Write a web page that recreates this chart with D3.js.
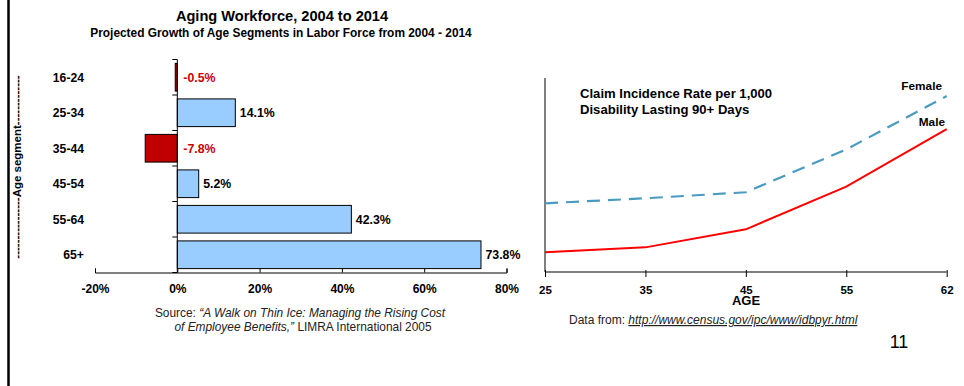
<!DOCTYPE html>
<html><head><meta charset="utf-8">
<script src="https://cdn.jsdelivr.net/npm/d3@7"></script>
<style>
body{margin:0;background:#fff;}
svg{display:block;font-family:Arial,"Liberation Sans",sans-serif;}
</style></head>
<body>
<svg id="c" width="964" height="386"></svg>
<script>
// ---- Data ----
const ageSegments = ["16-24","25-34","35-44","45-54","55-64","65+"];
const growth = [-0.5, 14.1, -7.8, 5.2, 42.3, 73.8];
const growthTicks = [-20, 0, 20, 40, 60, 80];

const ages = ["25","35","45","55","62"];
const maleRate = [1.02, 1.27, 2.2, 4.4, 7.37];
const femaleRate = [3.54, 3.8, 4.11, 6.32, 9.07];

const svg = d3.select("#c");
const F = 'Arial,"Liberation Sans",sans-serif';

// left border
svg.append("line").attr("x1",8.5).attr("x2",8.5).attr("y1",0).attr("y2",386)
  .attr("stroke","#000").attr("stroke-width",2.5);

// ---- Left chart ----
svg.append("text").attr("x",282).attr("y",21).attr("text-anchor","middle")
  .attr("font-weight","bold").attr("font-size",14.6).text("Aging Workforce, 2004 to 2014");
svg.append("text").attr("x",281).attr("y",37).attr("text-anchor","middle")
  .attr("font-weight","bold").attr("font-size",11.9).text("Projected Growth of Age Segments in Labor Force from 2004 - 2014");

const x = d3.scaleLinear().domain([-20,80]).range([95,506.5]);
const y = d3.scaleBand().domain(ageSegments).range([59.5,272.5]).paddingInner(0.22).paddingOuter(0.11);

const gL = svg.append("g");
// bars
gL.selectAll("rect.bar").data(ageSegments).join("rect")
  .attr("x",(d,i)=>x(Math.min(0,growth[i])))
  .attr("width",(d,i)=>Math.abs(x(growth[i])-x(0)))
  .attr("y",d=>y(d)).attr("height",y.bandwidth())
  .attr("fill",(d,i)=>growth[i]<0?"#C00000":"#99CCFF")
  .attr("stroke","#000").attr("stroke-width",1);

// value labels
gL.selectAll("text.val").data(ageSegments).join("text")
  .attr("x",(d,i)=>growth[i]<0? x(0)+6 : x(growth[i])+4.5)
  .attr("y",d=>y(d)+y.bandwidth()/2+4.5)
  .attr("font-size",12.3).attr("font-weight","bold")
  .attr("fill",(d,i)=>growth[i]<0?"#CC0000":"#000")
  .text((d,i)=>growth[i].toFixed(1)+"%");

// category axis (vertical at 0)
gL.append("line").attr("x1",x(0)).attr("x2",x(0)).attr("y1",y.range()[0]).attr("y2",y.range()[1])
  .attr("stroke","#000");
const bounds = ageSegments.map(d=>y(d)-y.step()*y.paddingInner()/2).concat([y.range()[1]]);
gL.selectAll("line.ct").data(bounds).join("line")
  .attr("x1",x(0)-5).attr("x2",x(0)).attr("y1",d=>d).attr("y2",d=>d).attr("stroke","#000");
gL.selectAll("text.cat").data(ageSegments).join("text")
  .attr("x",84).attr("y",d=>y(d)+y.bandwidth()/2+4.5).attr("text-anchor","end")
  .attr("font-size",12.2).attr("font-weight","bold").text(d=>d);

// x axis
const xAxis = d3.axisBottom(x).tickValues(growthTicks).tickSize(-4).tickPadding(10).tickFormat(d=>d+"%");
const gx = gL.append("g").attr("transform","translate(0,272.5)").call(xAxis);
gx.select(".domain").attr("stroke","#000");
gx.selectAll(".tick line").attr("stroke","#000");
gx.selectAll(".tick text").attr("font-size",12).attr("font-weight","bold").attr("font-family",F).attr("fill","#000").attr("dy","0.85em");

// y title
svg.append("text").attr("transform","translate(21,167) rotate(-90)").attr("text-anchor","middle")
  .attr("font-size",11.5).attr("font-weight","bold")
  .text("----------------Age segment-------------");

// source
const src = svg.append("text").attr("x",300).attr("y",317).attr("text-anchor","middle").attr("font-size",11.9).attr("fill","#222");
src.append("tspan").text("Source:  ");
src.append("tspan").attr("font-style","italic").text("\u201CA Walk on Thin Ice:  Managing the Rising Cost");
const src2 = svg.append("text").attr("x",303).attr("y",331).attr("text-anchor","middle").attr("font-size",11.9).attr("fill","#222");
src2.append("tspan").attr("font-style","italic").text("of Employee Benefits,\u201D ");
src2.append("tspan").text("LIMRA International 2005");

// ---- Right chart ----
const x2 = d3.scalePoint().domain(ages).range([545,946.7]);
const y2 = d3.scaleLinear().domain([0,10]).range([272,78]);
const gR = svg.append("g");
gR.append("line").attr("x1",545).attr("x2",545).attr("y1",78).attr("y2",272).attr("stroke","#000");
const xAxis2 = d3.axisBottom(x2).tickSize(5).tickPadding(9);
const gx2 = gR.append("g").attr("transform","translate(0,272)").call(xAxis2);
gx2.select(".domain").attr("d","M545,0H946.7").attr("stroke","#000");
gx2.selectAll(".tick line").attr("stroke","#000").attr("y1",-2);
gx2.selectAll(".tick text").attr("font-size",11.5).attr("font-weight","bold").attr("font-family",F).attr("fill","#000");

const line = d3.line().x((d,i)=>x2(ages[i])).y(d=>y2(d));
gR.append("path").attr("d",line(femaleRate)).attr("fill","none").attr("stroke","#4A9BC0")
  .attr("stroke-width",2.2).attr("stroke-dasharray","13,8");
gR.append("path").attr("d",line(maleRate)).attr("fill","none").attr("stroke","#FF0000")
  .attr("stroke-width",2);

gR.append("text").attr("x",942).attr("y",90).attr("text-anchor","end").attr("font-size",11.8).attr("font-weight","bold").text("Female");
gR.append("text").attr("x",945).attr("y",126).attr("text-anchor","end").attr("font-size",11.8).attr("font-weight","bold").text("Male");

gR.append("text").attr("x",580).attr("y",98).attr("font-size",13.1).attr("font-weight","bold").text("Claim Incidence Rate per 1,000");
gR.append("text").attr("x",580).attr("y",114).attr("font-size",13.1).attr("font-weight","bold").text("Disability Lasting 90+ Days");

gR.append("text").attr("x",746).attr("y",305).attr("text-anchor","middle").attr("font-size",13).attr("font-weight","bold").text("AGE");

const df = gR.append("text").attr("x",569).attr("y",324).attr("font-size",12).attr("fill","#222");
df.append("tspan").text("Data from: ");
df.append("tspan").attr("font-style","italic").attr("text-decoration","underline").text("http://www.census.gov/ipc/www/idbpyr.html");

gR.append("text").attr("x",899).attr("y",348).attr("text-anchor","middle").attr("font-size",18).text("11");
</script>
</body></html>
